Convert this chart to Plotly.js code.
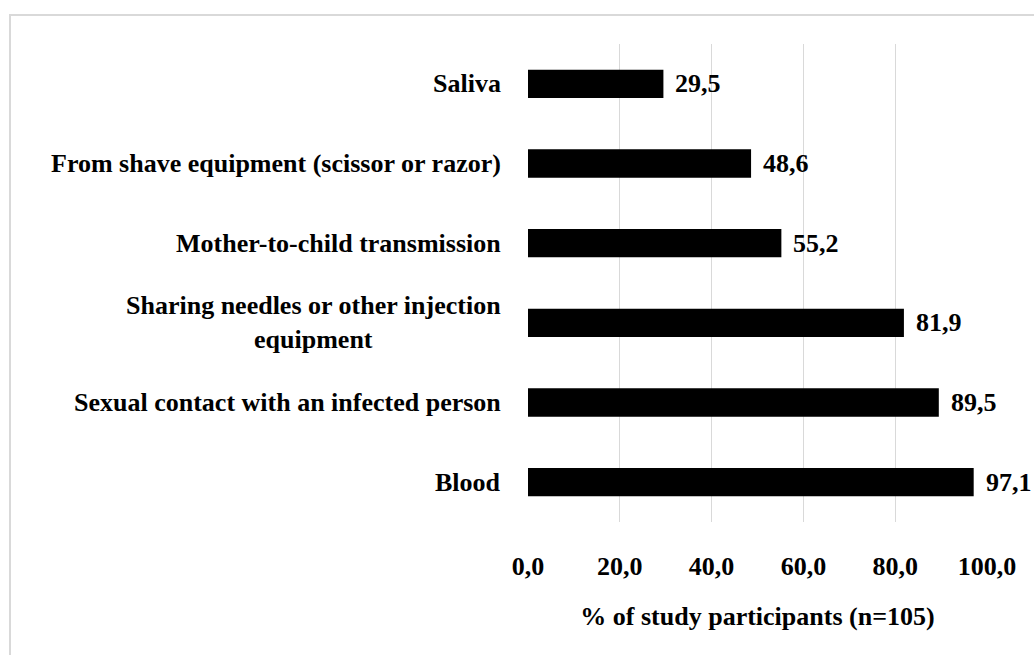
<!DOCTYPE html>
<html>
<head>
<meta charset="utf-8">
<script src="https://cdn.plot.ly/plotly-3.0.1.min.js"></script>
<style>
  html, body { margin: 0; padding: 0; background: #fff; }
  #wrap { position: relative; width: 1034px; height: 655px; overflow: hidden; }
  #chart { position: absolute; left: 0; top: 0; width: 1034px; height: 655px; }
  #frame { position: absolute; left: 9px; top: 14px; width: 1100px; height: 700px;
           border: 2px solid #d9d9d9; box-sizing: border-box; pointer-events: none; }
</style>
</head>
<body>
<div id="wrap"><div id="chart"></div><div id="frame"></div></div>
<script>
const categories = [
  "Blood",
  "Sexual contact with an infected person",
  "Sharing needles or other injection<br>equipment",
  "Mother-to-child transmission",
  "From shave equipment (scissor or razor)",
  "Saliva"
];
const values = [97.1, 89.5, 81.9, 55.2, 48.6, 29.5];
const xTicks = [0, 20, 40, 60, 80, 100];
const xTitle = "% of study participants (n=105)";

const FONT = "Times New Roman, Liberation Serif, DejaVu Serif, serif";
const FS = 26;

const trace = {
  type: "bar",
  orientation: "h",
  x: values,
  y: categories,
  marker: { color: "#000000", line: { color: "#000000", width: 0 } },
  hoverinfo: "skip"
};

const annotations = [];
categories.forEach((c, i) => {
  annotations.push({
    xref: "paper", yref: "y", x: -0.054, y: c,
    xanchor: "right", yanchor: "middle", align: "center",
    text: "<b>" + c + "</b>", showarrow: false,
    font: { family: FONT, size: FS, color: "#000" }
  });
  annotations.push({
    xref: "x", yref: "y", x: values[i], y: c,
    xanchor: "left", yanchor: "middle", xshift: 10,
    text: "<b>" + values[i].toFixed(1).replace(".", ",") + "</b>", showarrow: false,
    font: { family: FONT, size: FS, color: "#000" }
  });
});

const layout = {
  width: 1034, height: 655,
  margin: { l: 528, r: 47, t: 44, b: 133 },
  paper_bgcolor: "#ffffff", plot_bgcolor: "#ffffff",
  separators: ", ",
  showlegend: false,
  bargap: 0.645,
  font: { family: FONT, size: FS, color: "#000" },
  xaxis: {
    range: [0, 100],
    tickvals: xTicks,
    tickformat: ".1f",
    showgrid: true, gridcolor: "#d9d9d9", gridwidth: 1,
    zeroline: false, showline: false,
    ticks: "", ticklabelstandoff: 26,
    tickfont: { family: FONT, size: FS, color: "#000", weight: "bold" },
    title: { text: "<b>" + xTitle + "</b>", standoff: 26,
             font: { family: FONT, size: FS, color: "#000" } }
  },
  yaxis: {
    showticklabels: false, showgrid: false, zeroline: false, showline: false, ticks: ""
  },
  annotations: annotations
};

Plotly.newPlot("chart", [trace], layout, { displayModeBar: false, staticPlot: true });
</script>
</body>
</html>
